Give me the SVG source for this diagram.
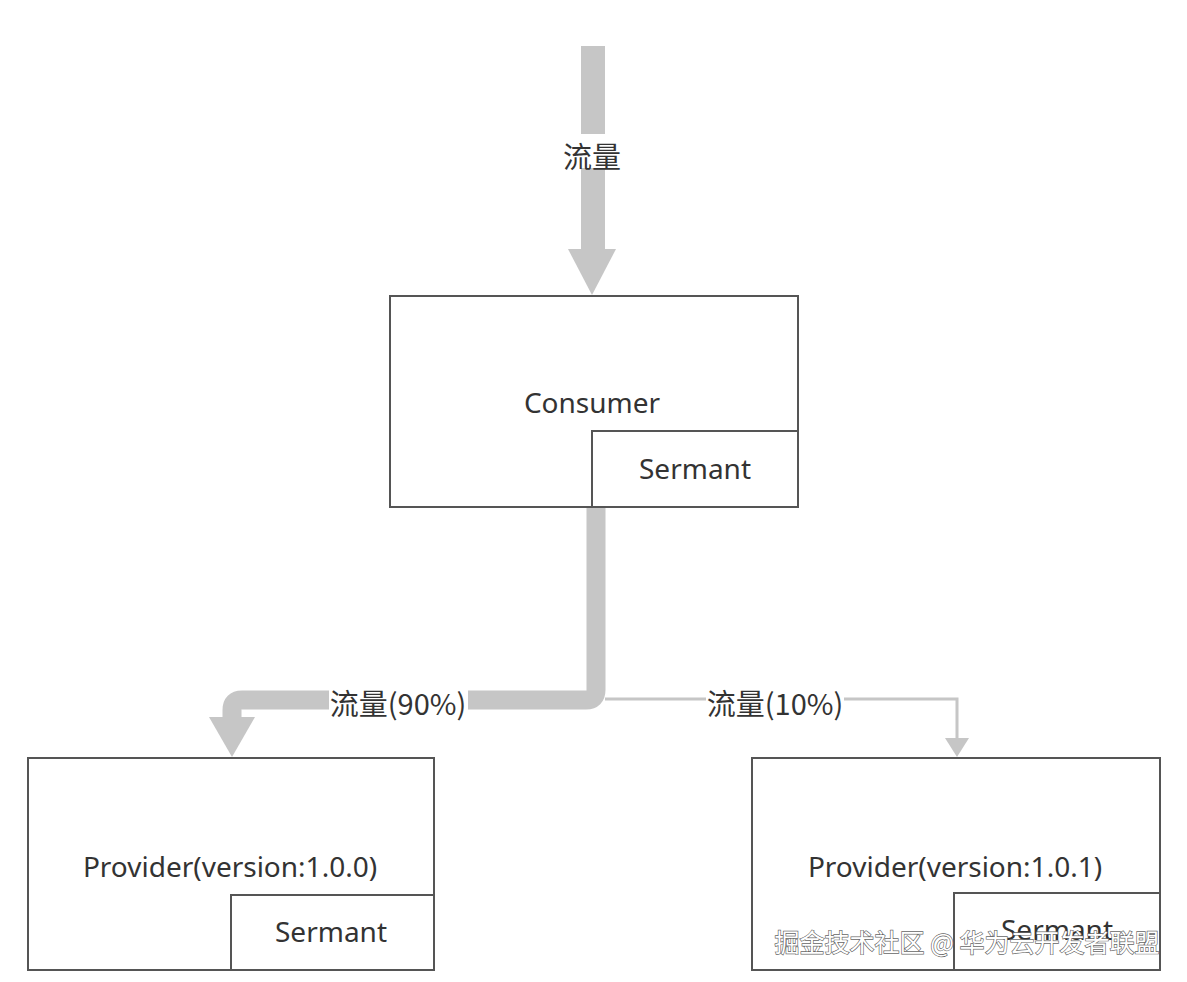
<svg xmlns="http://www.w3.org/2000/svg" width="1187" height="982" viewBox="0 0 1187 982">
<style>
.box{fill:#fff;stroke:#555;stroke-width:2}
.t{font-family:"Noto Sans","Noto Sans CJK SC",sans-serif;font-size:28px;fill:#333;text-anchor:middle;dominant-baseline:central}
.lbl{font-family:"Noto Sans CJK SC","Noto Sans",sans-serif;font-size:29px;fill:#333;text-anchor:middle;dominant-baseline:central}
.flow{fill:none;stroke:#c6c6c6}
.wm{font-family:"Noto Sans CJK SC","Noto Sans",sans-serif;font-size:25px;fill:#fff;stroke:#666;stroke-width:1.3;paint-order:stroke;text-anchor:middle;dominant-baseline:central}
</style>
<rect width="1187" height="982" fill="#fff"/>
<g id="consumer">
<rect class="box" x="390" y="296" width="408" height="211"/>
<text class="t" x="592" y="402">Consumer</text>
<rect class="box" x="592" y="431" width="206" height="76"/>
<text class="t" x="695" y="468">Sermant</text>
</g>
<g id="provider-100">
<rect class="box" x="28" y="758" width="406" height="212"/>
<text class="t" x="230" y="866">Provider(version:1.0.0)</text>
<rect class="box" x="231" y="895" width="203" height="75"/>
<text class="t" x="331" y="931">Sermant</text>
</g>
<g id="provider-101">
<rect class="box" x="752" y="758" width="408" height="212"/>
<text class="t" x="955" y="866">Provider(version:1.0.1)</text>
<rect class="box" x="954" y="893" width="206" height="77"/>
<text class="t" x="1057" y="929">Sermant</text>
</g>
<g id="connectors">
<path class="flow" d="M593 46 V250" stroke-width="24"/>
<polygon points="568,249 616,249 592,295" fill="#c6c6c6"/>
<path class="flow" d="M596 508 V690 Q596 700 586 700 H242 Q232 700 232 710 V718" stroke-width="19"/>
<polygon points="209,717 255,717 232,757" fill="#c6c6c6"/>
<path class="flow" d="M605 699 H957 V740" stroke-width="3"/>
<polygon points="945,738 969,738 957,757" fill="#c6c6c6"/>
<rect x="557" y="134" width="70" height="34" fill="#fff"/>
<text class="lbl" x="592" y="155">流量</text>
<rect x="329" y="686" width="139" height="34" fill="#fff"/>
<text class="lbl" x="398" y="702">流量(90%)</text>
<rect x="706" y="686" width="138" height="34" fill="#fff"/>
<text class="lbl" x="775" y="702">流量(10%)</text>
</g>
<text class="wm" x="967" y="941">掘金技术社区 @ 华为云开发者联盟</text>
</svg>
